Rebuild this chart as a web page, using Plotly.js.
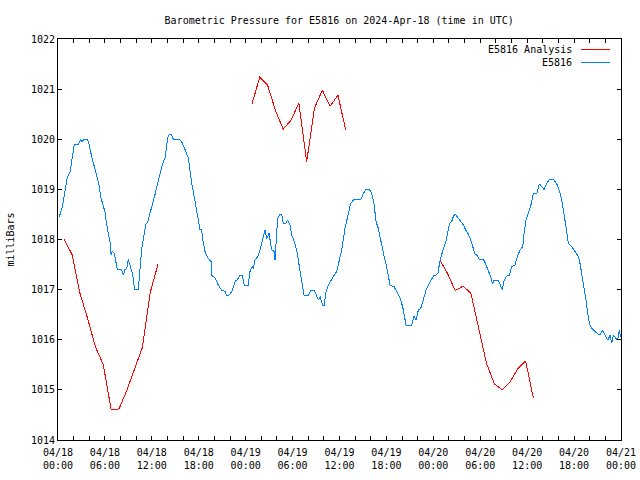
<!DOCTYPE html>
<html>
<head>
<meta charset="utf-8">
<script src="https://cdn.plot.ly/plotly-3.0.1.min.js"></script>
<style>
html,body{margin:0;padding:0;background:#fff;}
#chart{width:640px;height:480px;}
#chart .js-line, #chart .layer-above path { shape-rendering: crispEdges; }
</style>
</head>
<body>
<div id="chart"></div>
<script>
// Hours after 2024-04-18 00:00 UTC
var analysisName = "E5816 Analysis";
var stationName = "E5816";

var analysisHours = [0.8,1.8,2.8,3.8,4.8,5.8,6.8,7.8,8.8,9.8,10.8,11.8,12.8, null,
  24.8,25.8,26.8,27.8,28.8,29.8,30.8,31.8,32.8,33.8,34.8,35.8,36.8, null,
  48.8,49.8,50.8,51.8,52.8,53.8,54.8,55.8,56.8,57.8,58.8,59.8,60.8];
var analysisValues = [1018.00,1017.70,1016.93,1016.42,1015.85,1015.50,1014.60,1014.62,1014.99,1015.40,1015.85,1016.95,1017.51, null,
  1020.70,1021.24,1021.08,1020.58,1020.20,1020.38,1020.72,1019.55,1020.62,1020.98,1020.66,1020.88,1020.18, null,
  1017.60,1017.33,1016.98,1017.07,1016.93,1016.20,1015.53,1015.12,1015.00,1015.16,1015.42,1015.58,1014.83];

var stationHours = [0.2,0.26,0.55,0.81,1.03,1.2,1.54,1.75,1.96,2.09,2.6,2.9,3.03,3.33,3.75,3.97,4.31,4.65,4.95,5.24,5.46,5.71,6.01,6.22,6.44,6.65,6.78,6.95,7.2,7.37,7.59,8.14,8.36,8.57,8.78,8.99,9.33,9.55,9.72,9.85,10.27,10.49,10.7,10.91,11.21,11.47,11.77,12.07,12.41,12.75,13.09,13.35,13.69,13.9,14.03,14.24,14.46,14.76,15.48,15.82,16.12,16.37,16.67,16.88,17.1,17.31,17.52,17.74,17.95,18.16,18.38,18.5,18.8,19.23,19.57,19.65,20.08,20.5,20.93,21.36,21.57,21.87,22.21,22.64,22.98,23.28,23.57,23.83,24.34,24.55,24.85,24.98,25.19,25.54,25.83,26.18,26.47,26.69,26.99,27.33,27.67,27.75,27.97,28.09,28.39,28.61,28.82,29.12,29.37,29.67,29.88,30.22,30.52,30.74,30.95,31.17,31.46,32.02,32.36,32.78,33.08,33.3,33.51,33.72,33.85,34.06,34.24,34.57,34.91,35.21,35.64,35.94,36.28,36.7,37.13,37.43,37.86,38.75,39.05,39.39,39.82,40.12,40.41,40.67,40.97,41.27,41.53,41.82,42.12,42.46,42.97,43.32,43.74,44.08,44.29,44.51,45.23,45.53,45.79,46.08,46.38,46.81,47.07,47.36,47.66,48.0,48.3,48.64,48.77,48.98,49.28,49.62,49.79,50.05,50.35,50.56,50.77,50.99,51.29,51.63,51.84,52.14,52.48,52.78,53.04,53.33,53.63,53.88,54.48,54.74,55.03,55.33,55.59,55.76,56.31,56.61,56.83,57.04,57.38,57.72,58.02,58.45,58.74,59.09,59.43,59.6,59.85,60.15,60.45,60.79,61.22,61.56,61.86,62.16,62.41,62.84,63.35,63.56,63.86,64.2,64.42,64.63,64.84,65.06,65.27,65.7,66.12,66.55,66.76,66.98,67.27,67.53,67.74,67.95,68.25,68.68,69.32,69.62,69.96,70.3,70.6,70.81,71.02,71.32,71.57,71.79,71.95];
var stationValues = [1018.45,1018.5,1018.65,1018.9,1019.1,1019.25,1019.35,1019.6,1019.8,1019.9,1019.9,1020.0,1019.94,1020.0,1020.0,1019.9,1019.65,1019.45,1019.25,1019.1,1018.85,1018.7,1018.55,1018.3,1018.1,1017.95,1017.7,1017.77,1017.72,1017.6,1017.4,1017.4,1017.3,1017.4,1017.42,1017.6,1017.42,1017.3,1017.1,1017.0,1017.0,1017.42,1017.82,1018.0,1018.3,1018.35,1018.55,1018.7,1018.9,1019.1,1019.35,1019.5,1019.63,1019.85,1020.03,1020.1,1020.1,1020.0,1020.0,1019.95,1019.85,1019.75,1019.62,1019.35,1019.12,1018.95,1018.75,1018.59,1018.35,1018.2,1018.19,1018.0,1017.76,1017.62,1017.56,1017.29,1017.23,1017.09,1016.99,1016.96,1016.89,1016.89,1016.96,1017.16,1017.21,1017.28,1017.28,1017.09,1017.09,1017.36,1017.46,1017.42,1017.59,1017.66,1017.79,1018.02,1018.19,1018.02,1018.12,1017.79,1017.76,1017.59,1018.19,1018.42,1018.5,1018.5,1018.32,1018.32,1018.39,1018.29,1018.09,1017.96,1017.79,1017.56,1017.36,1017.19,1016.89,1016.89,1016.99,1016.99,1016.89,1016.79,1016.86,1016.76,1016.69,1016.69,1016.93,1017.09,1017.19,1017.26,1017.36,1017.56,1017.79,1018.22,1018.52,1018.72,1018.8,1018.8,1018.92,1019.0,1019.0,1018.92,1018.72,1018.36,1018.22,1017.96,1017.79,1017.59,1017.39,1017.09,1017.06,1016.96,1016.83,1016.66,1016.46,1016.29,1016.29,1016.47,1016.39,1016.59,1016.62,1016.86,1016.99,1017.09,1017.19,1017.27,1017.29,1017.34,1017.52,1017.66,1017.82,1017.96,1018.09,1018.31,1018.36,1018.46,1018.51,1018.46,1018.4,1018.32,1018.29,1018.19,1018.11,1017.99,1017.86,1017.71,1017.68,1017.6,1017.59,1017.49,1017.39,1017.26,1017.11,1017.19,1017.19,1017.09,1016.99,1017.18,1017.27,1017.29,1017.46,1017.49,1017.66,1017.79,1017.86,1018.11,1018.39,1018.52,1018.67,1018.91,1018.91,1019.11,1019.05,1019.0,1019.09,1019.2,1019.2,1019.16,1019.09,1018.92,1018.79,1018.59,1018.32,1018.16,1017.92,1017.86,1017.76,1017.66,1017.52,1017.32,1017.06,1016.79,1016.53,1016.33,1016.23,1016.16,1016.09,1016.19,1016.09,1015.99,1016.09,1015.93,1016.09,1016.03,1015.99,1016.19,1016.05];

var xTickHours = [0,6,12,18,24,30,36,42,48,54,60,66,72];
var xTickLabels = ["04/18<br>00:00","04/18<br>06:00","04/18<br>12:00","04/18<br>18:00",
  "04/19<br>00:00","04/19<br>06:00","04/19<br>12:00","04/19<br>18:00",
  "04/20<br>00:00","04/20<br>06:00","04/20<br>12:00","04/20<br>18:00","04/21<br>00:00"];
var yTickValues = [1014,1015,1016,1017,1018,1019,1020,1021,1022];

var titleText = "Barometric Pressure for E5816 on 2024-Apr-18 (time in UTC)";
var yTitleText = "milliBars";

var base = Date.UTC(2024, 3, 18, 0, 0, 0);
function toDate(h) {
  if (h === null) return null;
  var d = new Date(base + Math.round(h * 3600000));
  return d.toISOString().slice(0, 19).replace('T', ' ');
}

var FONT = "DejaVu Sans Mono, monospace";
var redColor = "#ff0000";
var blueColor = "#0080ff";

var traces = [
  {x: analysisHours.map(toDate), y: analysisValues, type: "scatter", mode: "lines",
   name: analysisName, connectgaps: false, line: {color: redColor, width: 1}},
  {x: stationHours.map(toDate), y: stationValues, type: "scatter", mode: "lines",
   name: stationName, line: {color: blueColor, width: 1, shape: "linear"}}
];

var layout = {
  width: 640, height: 480,
  margin: {l: 58, r: 19, t: 39, b: 40, pad: 0},
  paper_bgcolor: "#ffffff", plot_bgcolor: "#ffffff",
  showlegend: false,
  font: {family: FONT, size: 10, color: "#000"},
  title: {text: titleText, font: {family: FONT, size: 10, color: "#000"},
          x: 0.53, xanchor: "center", y: 0.958, yanchor: "middle"},
  xaxis: {
    type: "date",
    range: [toDate(0), toDate(72)],
    tickmode: "array",
    tickvals: xTickHours.map(toDate),
    ticktext: xTickLabels,
    ticks: "inside", ticklen: 4, tickwidth: 1, tickcolor: "#000",
    ticklabelstandoff: 3,
    minor: {dtick: 7200000, tick0: toDate(0), ticks: "inside", ticklen: 4, tickwidth: 1, tickcolor: "#000", showgrid: false},
    showline: true, linecolor: "#000", linewidth: 1, mirror: "allticks",
    showgrid: false, zeroline: false,
    tickfont: {family: FONT, size: 10, color: "#000"}
  },
  yaxis: {
    range: [1014, 1022],
    tickmode: "array", tickvals: yTickValues, ticktext: yTickValues.map(String),
    ticks: "inside", ticklen: 4, tickwidth: 1, tickcolor: "#000",
    showline: true, linecolor: "#000", linewidth: 1, mirror: "allticks",
    showgrid: false, zeroline: false,
    tickfont: {family: FONT, size: 10, color: "#000"},
    title: {text: yTitleText, font: {family: FONT, size: 10, color: "#000"}, standoff: 14}
  },
  annotations: [
    {xref: "paper", yref: "paper", x: 0.9165, y: 0.9726, xanchor: "right", yanchor: "middle",
     text: analysisName, showarrow: false, font: {family: FONT, size: 10, color: "#000"}},
    {xref: "paper", yref: "paper", x: 0.9165, y: 0.941, xanchor: "right", yanchor: "middle",
     text: stationName, showarrow: false, font: {family: FONT, size: 10, color: "#000"}}
  ],
  shapes: [
    {type: "line", xref: "paper", yref: "paper", x0: 0.929, x1: 0.980, y0: 0.9726, y1: 0.9726,
     line: {color: redColor, width: 1}},
    {type: "line", xref: "paper", yref: "paper", x0: 0.929, x1: 0.980, y0: 0.941, y1: 0.941,
     line: {color: blueColor, width: 1}}
  ]
};

Plotly.newPlot("chart", traces, layout, {staticPlot: true, displayModeBar: false});
</script>
</body>
</html>
